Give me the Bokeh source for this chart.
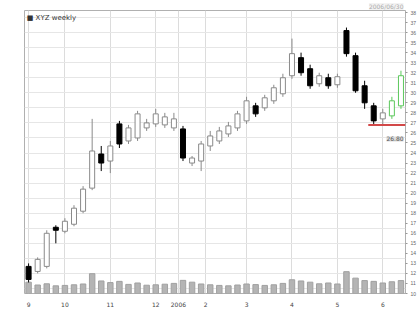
from bokeh.plotting import figure
from bokeh.models import Range1d, FixedTicker, SingleIntervalTicker, Label, ColumnDataSource
from bokeh.embed import file_html
from bokeh.resources import INLINE

# ---- data ----
opens  = [12.7, 12.2, 12.7, 16.6, 16.2, 16.9, 18.2, 20.5, 23.9, 23.2, 26.9, 25.2, 25.5, 26.5,
          26.9, 26.8, 26.5, 26.4, 23.0, 23.2, 24.7, 25.2, 25.9, 26.5, 27.2, 28.7, 28.5, 29.2,
          29.9, 31.7, 33.5, 32.4, 30.9, 31.5, 30.8, 36.2, 33.7, 30.7, 28.7, 27.4, 27.7, 28.7]
closes = [11.4, 13.4, 16.0, 16.3, 17.2, 18.5, 20.4, 24.2, 23.0, 24.7, 24.9, 26.5, 27.9, 27.0,
          27.9, 27.6, 27.4, 23.5, 23.5, 24.9, 25.7, 26.2, 26.7, 27.9, 29.2, 27.9, 29.5, 30.5,
          31.5, 33.9, 32.0, 30.7, 31.7, 30.7, 31.6, 33.9, 30.2, 29.0, 27.2, 28.0, 29.2, 31.7]
highs  = [13.0, 13.6, 16.3, 16.8, 17.5, 18.8, 20.7, 27.4, 24.7, 25.2, 27.2, 26.8, 28.2, 27.4,
          28.4, 28.0, 28.0, 26.7, 23.7, 25.2, 26.2, 26.6, 27.1, 28.2, 29.6, 29.0, 29.8, 30.8,
          31.9, 35.4, 34.0, 32.8, 32.0, 31.9, 31.9, 36.5, 34.0, 31.2, 29.0, 28.4, 29.6, 32.2]
lows   = [11.1, 12.0, 12.5, 15.0, 16.0, 16.7, 18.0, 20.3, 22.2, 22.0, 24.5, 24.9, 25.2, 26.2,
          26.6, 26.5, 26.2, 23.2, 22.7, 22.2, 24.2, 24.9, 25.6, 26.2, 26.9, 27.6, 28.2, 28.9,
          29.6, 31.4, 31.7, 30.4, 30.6, 30.4, 30.5, 33.6, 30.0, 28.4, 26.8, 26.8, 27.4, 28.4]
volumes = [560, 420, 480, 380, 400, 430, 470, 980, 620, 540, 600, 450, 520, 410, 430, 460,
           500, 650, 560, 470, 430, 400, 380, 420, 470, 440, 400, 430, 500, 680, 620, 560,
           480, 520, 470, 1080, 760, 640, 600, 520, 580, 640]
n_projected = 2  # last candles drawn in green

tick_pos = [0, 4, 9, 14, 16.5, 19.5, 24, 29, 34, 39]
tick_labels = ["9", "10", "11", "12", "2006", "2", "3", "4", "5", "6"]

support_level = 26.8
last_label = "26.80"
title_text = "\u25a0 XYZ  weekly"
header_text = "2006/06/30"

# ---- derived ----
n = len(opens)
idx = list(range(n))
tops = [max(o, c) for o, c in zip(opens, closes)]
bots = [min(o, c) for o, c in zip(opens, closes)]
fills, lines = [], []
for i, (o, c) in enumerate(zip(opens, closes)):
    if i >= n - n_projected:
        fills.append("white"); lines.append("#5cc85c")
    elif c < o:
        fills.append("black"); lines.append("black")
    else:
        fills.append("white"); lines.append("#8a8a8a")

src = ColumnDataSource(dict(x=idx, o=opens, c=closes, h=highs, l=lows, top=tops, bot=bots,
                            fill=fills, line=lines, vol=volumes))

p = figure(width=420, height=309, output_backend="svg", toolbar_location=None,
           x_range=Range1d(-0.45, 41.5), y_range=Range1d(10, 38.2),
           y_axis_location="right", min_border_left=24, min_border_top=0,
           min_border_right=15, min_border_bottom=16, title=header_text)
p.background_fill_color = "white"
p.border_fill_color = "white"
p.outline_line_color = "#b0b0b0"

p.title.align = "right"
p.title.text_font_size = "6px"
p.title.text_font = "DejaVu Sans"
p.title.text_font_style = "normal"
p.title.text_color = "#aaaaaa"
p.title.standoff = 1
p.title.offset = 2
p.title.background_fill_color = "#f3f3f3"

p.extra_y_ranges = {"vol": Range1d(0, 14000)}

# grids
p.xgrid.ticker = FixedTicker(ticks=tick_pos)
p.xgrid.grid_line_color = "#dcdcdc"
p.ygrid.ticker = SingleIntervalTicker(interval=1.5)
p.ygrid.grid_line_color = "#e6e6e6"

# axes
p.xaxis.ticker = FixedTicker(ticks=tick_pos)
p.xaxis.major_label_overrides = {k: v for k, v in zip(tick_pos, tick_labels)}
p.xaxis.axis_line_color = None
p.xaxis.major_tick_line_color = None
p.xaxis.minor_tick_line_color = None
p.xaxis.major_label_text_font_size = "6px"
p.xaxis.major_label_text_color = "#444444"
p.xaxis.major_label_standoff = 2
p.xaxis.major_label_text_font = "DejaVu Sans"

p.yaxis.ticker = SingleIntervalTicker(interval=1)
p.yaxis.axis_line_color = None
p.yaxis.major_tick_line_color = "#999999"
p.yaxis.major_tick_out = 2
p.yaxis.major_tick_in = 0
p.yaxis.minor_tick_line_color = None
p.yaxis.major_label_text_font_size = "5px"
p.yaxis.major_label_text_color = "#666666"
p.yaxis.major_label_standoff = 1

# volume
p.vbar(x="x", top="vol", bottom=0, width=0.6, source=src, y_range_name="vol",
       fill_color="#b4b4b4", line_color="#a0a0a0")

# candles
p.segment(x0="x", y0="h", x1="x", y1="l", source=src, line_color="line", line_width=1)
p.vbar(x="x", top="top", bottom="bot", width=0.55, source=src,
       fill_color="fill", line_color="line", line_width=1)

# support line
p.segment(x0=[37.4], y0=[support_level], x1=[41.5], y1=[support_level],
          line_color="#d24848", line_width=2)
p.add_layout(Label(x=39.4, y=support_level - 1.4, text=last_label, text_font_size="6px",
                   text_color="#555555", background_fill_color="#dcdcdc",
                   text_baseline="middle", text_font="DejaVu Sans"))

# title inside the frame
p.add_layout(Label(x=-0.2, y=37.5, text=title_text, text_font_size="7px",
                   text_color="#333333", text_baseline="middle",
                   text_font="DejaVu Sans"))

open("out.html", "w").write(file_html(p, INLINE))
